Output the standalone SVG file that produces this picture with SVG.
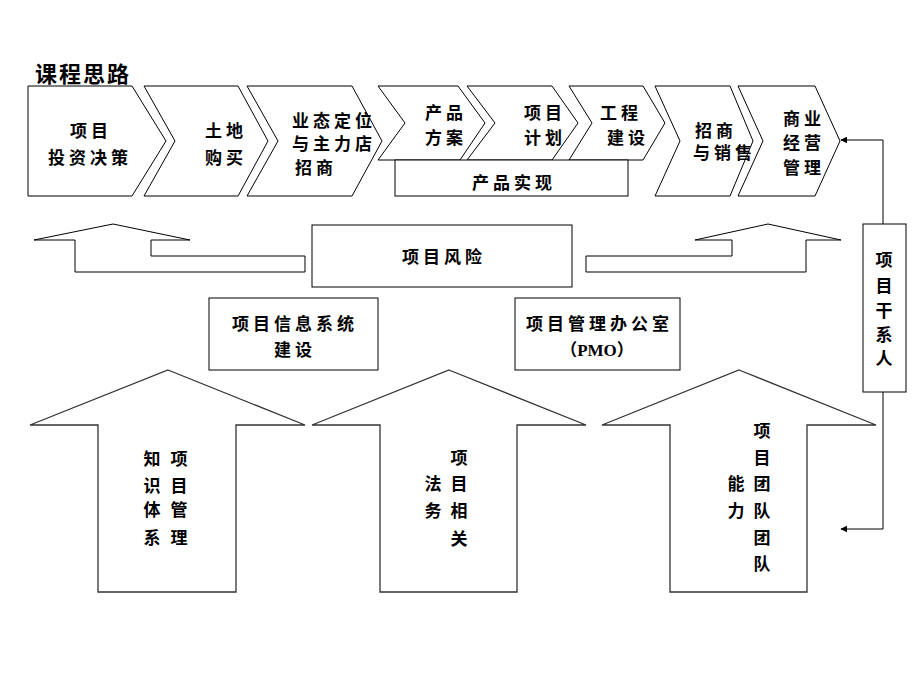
<svg xmlns="http://www.w3.org/2000/svg" width="920" height="690" viewBox="0 0 920 690">
<style>
.sh{fill:#fff;stroke:#000;stroke-width:1}
.ar{fill:#fff;stroke:#333;stroke-width:1.3}
.t{font-family:"Liberation Serif","Noto Sans CJK SC",serif;font-size:17px;font-weight:700;letter-spacing:4px;fill:#000}
.v{font-family:"Liberation Serif","Noto Sans CJK SC",serif;font-size:17px;font-weight:700;fill:#000;text-anchor:middle}
.ttl{font-family:"Liberation Serif","Noto Sans CJK SC",serif;font-size:22px;font-weight:700;letter-spacing:2px;fill:#000}
.ln{fill:none;stroke:#000;stroke-width:1}
</style>
<defs>
<marker id="ah" viewBox="0 0 10 10" refX="9" refY="5" markerWidth="7" markerHeight="7" orient="auto" markerUnits="userSpaceOnUse">
<path d="M0,0 L10,5 L0,10 z" fill="#000"/>
</marker>
</defs>
<rect width="920" height="690" fill="#fff"/>
<text class="ttl" x="35" y="82">课程思路</text>

<g id="c1"><polygon class="sh" points="28,86 132,86 166,141 132,196 28,196"/>
<text class="t" x="70" y="136.5">项目</text><text class="t" x="48" y="163.5">投资决策</text></g>
<g id="c2"><polygon class="sh" points="144,86 238,86 268,141 238,196 144,196 175,141"/>
<text class="t" x="205" y="136.5">土地</text><text class="t" x="205" y="163.5">购买</text></g>
<g id="c3"><polygon class="sh" points="247,86 352,86 382,141 352,196 247,196 278,141"/>
<text class="t" x="292" y="126.5">业态定位</text><text class="t" x="292" y="149.5">与主力店</text><text class="t" x="295" y="173.5">招商</text></g>
<g id="c4"><polygon class="sh" points="378,86 458,86 485,123 460,160 378,160 405,123"/>
<text class="t" x="425" y="118.5">产品</text><text class="t" x="425" y="143.5">方案</text></g>
<g id="c5"><polygon class="sh" points="467,86 552,86 578,123 552,160 467,160 495,123"/>
<text class="t" x="524" y="118.5">项目</text><text class="t" x="524" y="143.5">计划</text></g>
<g id="c6"><polygon class="sh" points="569,86 643,86 665,123 643,160 569,160 592,123"/>
<text class="t" x="600" y="118.5">工程</text><text class="t" x="607" y="143.5">建设</text></g>
<g id="pr"><rect class="sh" x="395" y="160" width="233" height="36"/>
<text class="t" x="472" y="188.5">产品实现</text></g>
<g id="c7"><polygon class="sh" points="655,86 730,86 753,141 730,196 655,196 680,141"/>
<text class="t" x="695" y="136.5">招商</text><text class="t" x="693" y="158.5">与销售</text></g>
<g id="c8"><polygon class="sh" points="738,86 815,86 840,141 815,196 738,196 763,141"/>
<text class="t" x="783" y="124.5">商业</text><text class="t" x="783" y="148.5">经营</text><text class="t" x="783" y="173.5">管理</text></g>

<g id="riskL"><polygon class="sh" points="113,224 190,240 151,240 151,256 305,256 305,272 75,272 75,240 34,240"/></g>
<g id="riskR"><polygon class="sh" points="768,224 841,240 806,240 806,272 586,272 586,256 732,256 732,240 695,240"/></g>
<g id="risk"><rect class="sh" x="312" y="225" width="260" height="62"/>
<text class="t" x="402" y="262.5">项目风险</text></g>

<g id="info"><rect class="sh" x="209" y="298" width="169" height="72"/>
<text class="t" x="232" y="329.5">项目信息系统</text><text class="t" x="274" y="355.5">建设</text></g>
<g id="pmo"><rect class="sh" x="515" y="298" width="165" height="72"/>
<text class="t" x="526" y="329.5">项目管理办公室</text><text class="v" x="597" y="355.5">（PMO）</text></g>

<g id="a1"><polygon class="ar" points="168,370 305,425 236,425 236,592 98,592 98,425 30,425"/>
<text class="v" x="179" y="464.5">项</text><text class="v" x="179" y="491.5">目</text><text class="v" x="179" y="515.5">管</text><text class="v" x="179" y="543.5">理</text>
<text class="v" x="152" y="464.5">知</text><text class="v" x="152" y="491.5">识</text><text class="v" x="152" y="515.5">体</text><text class="v" x="152" y="543.5">系</text></g>
<g id="a2"><polygon class="ar" points="449,370 586,425 517,425 517,592 380,592 380,425 312,425"/>
<text class="v" x="459" y="463.5">项</text><text class="v" x="459" y="489.5">目</text><text class="v" x="459" y="516.5">相</text><text class="v" x="459" y="544.5">关</text>
<text class="v" x="433" y="489.5">法</text><text class="v" x="433" y="516.5">务</text></g>
<g id="a3"><polygon class="ar" points="739,370 876,425 807,425 807,592 670,592 670,425 602,425"/>
<text class="v" x="762" y="436.5">项</text><text class="v" x="762" y="463.5">目</text><text class="v" x="762" y="489.5">团</text><text class="v" x="762" y="516.5">队</text><text class="v" x="762" y="543.5">团</text><text class="v" x="762" y="569.5">队</text>
<text class="v" x="736" y="489.5">能</text><text class="v" x="736" y="516.5">力</text></g>

<g id="stake"><rect class="sh" x="863" y="224" width="43" height="168"/>
<text class="v" x="884" y="265.5">项</text><text class="v" x="884" y="291.5">目</text><text class="v" x="884" y="316.5">干</text><text class="v" x="884" y="340.5">系</text><text class="v" x="884" y="364.5">人</text></g>

<g id="connectors">
<path class="ln" d="M883,224 V140 H841" marker-end="url(#ah)"/>
<path class="ln" d="M883,392 V529 H841" marker-end="url(#ah)"/>
</g>
</svg>
